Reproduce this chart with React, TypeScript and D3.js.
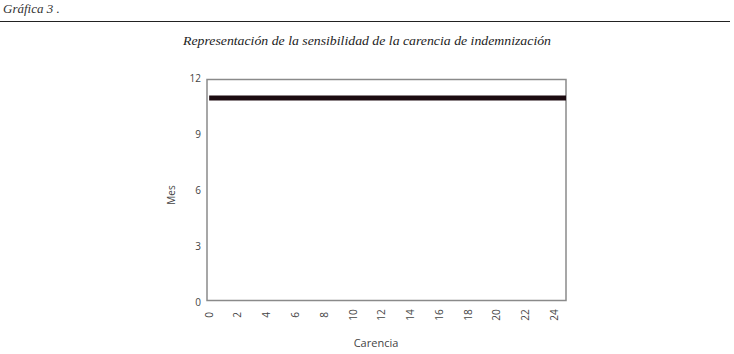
import React from "react";
import * as d3 from "d3";

const carencia: number[] = [0, 1, 2, 3, 4, 5, 6, 7, 8, 9, 10, 11, 12, 13, 14, 15, 16, 17, 18, 19, 20, 21, 22, 23, 24, 24.8];
const meses: number[] = [11, 11, 11, 11, 11, 11, 11, 11, 11, 11, 11, 11, 11, 11, 11, 11, 11, 11, 11, 11, 11, 11, 11, 11, 11, 11];
const xTicks: number[] = [0, 2, 4, 6, 8, 10, 12, 14, 16, 18, 20, 22, 24];
const yTicks: number[] = [0, 3, 6, 9, 12];

const W = 734;
const H = 354;
const L = 207, R = 566, T = 79.5, B = 300.5;

export default function App() {
  const x = d3.scaleLinear().domain([-0.15, 24.8]).range([L, R]);
  const y = d3.scaleLinear().domain([0, 12]).range([B, T]);
  const yl = d3.scaleLinear().domain([0, 12]).range([B + 1.5, T - 1.5]);
  const pts: [number, number][] = carencia.map((c, i) => [c, meses[i]]);
  const line = d3.line<[number, number]>().x((d) => x(d[0])).y((d) => y(d[1]));
  const axisFont = "'Open Sans', 'Noto Sans', sans-serif";
  return (
    <svg width={W} height={H} style={{ position: "absolute", left: 0, top: 0, background: "#fff" }}>
      <text x={3} y={13} fontFamily="'Liberation Serif', serif" fontStyle="italic" fontSize={13} fill="#333">
        Gráfica 3 .
      </text>
      <line x1={0} x2={730} y1={21.5} y2={21.5} stroke="#222" strokeWidth={1} />
      <text x={367} y={45} textAnchor="middle" fontFamily="'Liberation Serif', serif" fontStyle="italic" fontSize={13.5} fill="#222" textLength={368} lengthAdjust="spacingAndGlyphs">
        Representación de la sensibilidad de la carencia de indemnización
      </text>
      <rect x={L} y={T} width={R - L} height={B - T} fill="none" stroke="#8a8a8a" strokeWidth={1.5} />
      <path d={line(pts) || ""} fill="none" stroke="#1c0b10" strokeWidth={5} />
      {yTicks.map((t) => (
        <text key={"y" + t} x={201} y={yl(t)} dominantBaseline="central" textAnchor="end" fontFamily={axisFont} fontSize={10} fill="#444">
          {t}
        </text>
      ))}
      {xTicks.map((t) => (
        <text key={"x" + t} transform={`translate(${x(t) + 3.5},315) rotate(-90)`} textAnchor="middle" fontFamily={axisFont} fontSize={10} fill="#444">
          {t}
        </text>
      ))}
      <text transform="translate(175,195) rotate(-90)" textAnchor="middle" fontFamily={axisFont} fontSize={10} fill="#444">
        Mes
      </text>
      <text x={376} y={347} textAnchor="middle" fontFamily={axisFont} fontSize={11} fill="#444">
        Carencia
      </text>
    </svg>
  );
}
